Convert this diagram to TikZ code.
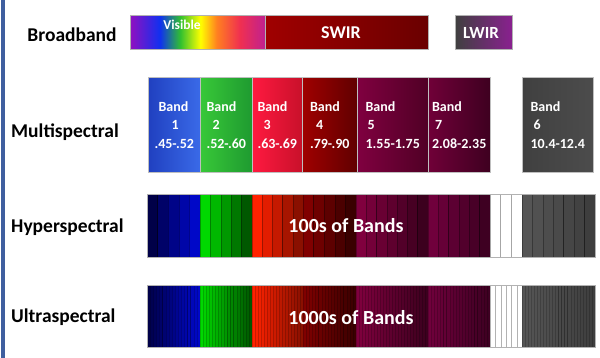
\documentclass[tikz,border=0pt]{standalone}
\usepackage{fontspec}
\setmainfont{Carlito}

\definecolor{vpurple}{HTML}{9010C0}
\definecolor{vblue}{HTML}{1030F0}
\definecolor{vgreen}{HTML}{30C030}
\definecolor{vyellow}{HTML}{FFFF00}
\definecolor{vorange}{HTML}{FF8020}
\definecolor{vred}{HTML}{F03050}
\definecolor{vmagenta}{HTML}{C02090}
\definecolor{swirA}{HTML}{A00000}
\definecolor{swirB}{HTML}{6A0000}
\definecolor{lwirA}{HTML}{404040}
\definecolor{lwirB}{HTML}{8A2090}
\definecolor{band1a}{HTML}{2040C0}
\definecolor{band1b}{HTML}{3A6AE8}
\definecolor{band2a}{HTML}{38C838}
\definecolor{band2b}{HTML}{1E9A30}
\definecolor{band3a}{HTML}{FF1A40}
\definecolor{band3b}{HTML}{C8102A}
\definecolor{band4a}{HTML}{A00000}
\definecolor{band4b}{HTML}{600000}
\definecolor{band5a}{HTML}{800040}
\definecolor{band5b}{HTML}{500025}
\definecolor{band7a}{HTML}{700038}
\definecolor{band7b}{HTML}{3E0020}
\definecolor{band6a}{HTML}{404040}
\definecolor{band6b}{HTML}{4C4C4C}
\definecolor{sblueA}{HTML}{000048}
\definecolor{sblueB}{HTML}{0008C8}
\definecolor{sgreenA}{HTML}{00D800}
\definecolor{sgreenB}{HTML}{005800}
\definecolor{sredA}{HTML}{FF2200}
\definecolor{sredB}{HTML}{8A1000}
\definecolor{sdredA}{HTML}{800000}
\definecolor{sdredB}{HTML}{3A0000}
\definecolor{spurA}{HTML}{80003E}
\definecolor{spurB}{HTML}{3C001E}
\definecolor{spurtwoA}{HTML}{70003C}
\definecolor{spurtwoB}{HTML}{3E0022}
\definecolor{sgrayA}{HTML}{555555}
\definecolor{sgrayB}{HTML}{3E3E3E}
\definecolor{sidebar}{HTML}{3F5F9F}

\pgfdeclarehorizontalshading{visiblerainbow}{100bp}{color(0bp)=(vpurple); color(25bp)=(vpurple); color(36bp)=(vblue); color(43.5bp)=(vgreen); color(51bp)=(vyellow); color(57bp)=(vorange); color(65.5bp)=(vred); color(75bp)=(vmagenta); color(100bp)=(vmagenta)}

\newcommand{\bandstripes}[8][]{%
	\pgfmathsetmacro{\stripew}{(#3-#2)/#4}
	\foreach \i in {1,...,#4}{
		\pgfmathtruncatemacro{\mixpct}{100-100*(\i-1)/max(#4-1,1)}
		\filldraw[stripe,fill=#5!\mixpct!#6,#1] ({#2+(\i-1)*\stripew},#7) rectangle ({#2+\i*\stripew},#8);
	}}

\begin{document}
\begin{tikzpicture}[x=1pt,y=-1pt,
		rowname/.style={font=\fontsize{19.5}{22}\selectfont\bfseries,inner sep=0pt,anchor=base west},
		barbox/.style={draw=black!30,line width=0.5pt,anchor=north west,inner sep=0pt,minimum height=34pt},
		bandbox/.style={draw=black!25,line width=0.5pt,anchor=north west,inner sep=0pt,minimum height=95pt,align=left,text=white,font=\fontsize{14}{18.5}\selectfont\bfseries},
		bartext/.style={text=white,font=\fontsize{18}{20}\selectfont\bfseries,inner sep=0pt,anchor=base},
		stripe/.style={draw=black,draw opacity=0.3,line width=0.5pt},
		fine/.style={line width=0.3pt,draw opacity=0.18},
		frame/.style={draw=black!30,line width=0.6pt}]
	\useasboundingbox (0,0) rectangle (600,358);
	\fill[sidebar] (1,0) rectangle (4.5,358);

	\node[rowname,anchor=base] (broad) at (72,42) {Broadband};
	\node[rowname] (multi) at (11,138) {Multispectral};
	\node[rowname] (hyper) at (11,233) {Hyperspectral};
	\node[rowname] (ultra) at (11,323) {Ultraspectral};

	\node[barbox,minimum width=135pt,shade,shading=visiblerainbow] (vis) at (130,15) {};
	\node[barbox,minimum width=163pt,left color=swirA,right color=swirB] (swir) at (265,15) {};
	\node[barbox,minimum width=57pt,left color=lwirA,right color=lwirB] (lwir) at (455,15) {};
	\node[bartext,font=\fontsize{13.5}{15}\selectfont\bfseries] (vistext) at (182,30) {Visible};
	\node[bartext] (swirtext) at (341,39) {SWIR};
	\node[bartext,font=\fontsize{17}{19}\selectfont\bfseries] (lwirtext) at (481,39) {LWIR};

	\node[bandbox,minimum width=52pt,left color=band1a,right color=band1b] (band1) at (148,77) {\hspace*{4pt}Band\\\hspace*{17pt}1\\.45-.52};
	\node[bandbox,minimum width=52pt,left color=band2a,right color=band2b] (band2) at (200,77) {Band\\\hspace*{6pt}2\\.52-.60};
	\node[bandbox,minimum width=50pt,left color=band3a,right color=band3b] (band3) at (252,77) {Band\\\hspace*{6pt}3\\.63-.69};
	\node[bandbox,minimum width=55pt,left color=band4a,right color=band4b] (band4) at (302,77) {Band\\\hspace*{6pt}4\\.79-.90};
	\node[bandbox,minimum width=71pt,left color=band5a,right color=band5b] (band5) at (357,77) {Band\\\hspace*{2pt}5\\1.55-1.75};
	\node[bandbox,minimum width=62pt,left color=band7a,right color=band7b] (band7) at (428,77) {Band\\\hspace*{3pt}7\\2.08-2.35};
	\node[bandbox,minimum width=71pt,left color=band6a,right color=band6b] (band6) at (522,77) {Band\\\hspace*{3pt}6\\10.4-12.4};

	\bandstripes{147}{200}{5}{sblueA}{sblueB}{194}{257}
	\bandstripes{200}{252}{5}{sgreenA}{sgreenB}{194}{257}
	\bandstripes{252}{303}{5}{sredA}{sredB}{194}{257}
	\bandstripes{303}{356}{5}{sdredA}{sdredB}{194}{257}
	\bandstripes{356}{428}{7}{spurA}{spurB}{194}{257}
	\bandstripes{428}{490}{6}{spurtwoA}{spurtwoB}{194}{257}
	\bandstripes[draw=black!35,draw opacity=1]{490}{522}{3}{white}{white}{194}{257}
	\bandstripes{522}{595}{7}{sgrayA}{sgrayB}{194}{257}
	\draw[frame] (147,194) rectangle (595,257);
	\node[bartext,font=\fontsize{20}{22}\selectfont\bfseries] (hypertext) at (346,233) {100s of Bands};

	\bandstripes[fine]{147}{200}{17}{sblueA}{sblueB}{285}{347}
	\bandstripes[fine]{200}{252}{17}{sgreenA}{sgreenB}{285}{347}
	\bandstripes[fine]{252}{303}{17}{sredA}{sredB}{285}{347}
	\bandstripes[fine]{303}{356}{17}{sdredA}{sdredB}{285}{347}
	\bandstripes[fine]{356}{428}{24}{spurA}{spurB}{285}{347}
	\bandstripes[fine]{428}{490}{20}{spurtwoA}{spurtwoB}{285}{347}
	\bandstripes[draw=black!30,draw opacity=1,line width=0.3pt]{490}{522}{6}{white}{white}{285}{347}
	\bandstripes[fine]{522}{595}{24}{sgrayA}{sgrayB}{285}{347}
	\draw[frame] (147,285) rectangle (595,347);
	\node[bartext,font=\fontsize{20}{22}\selectfont\bfseries] (ultratext) at (351,324) {1000s of Bands};
\end{tikzpicture}
\end{document}
